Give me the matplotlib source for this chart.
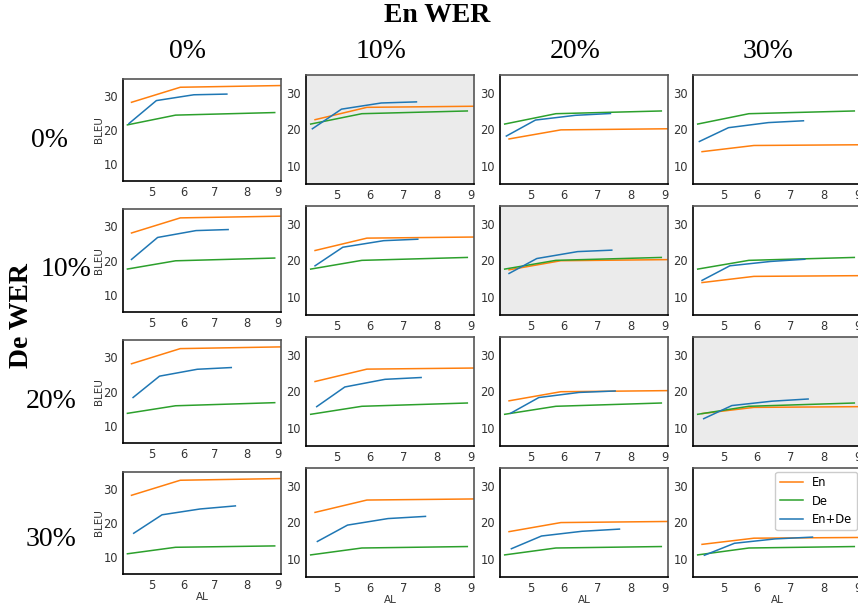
import matplotlib
matplotlib.use("Agg")
import matplotlib.pyplot as plt

# ---------------- data ----------------
wer_levels = ["0%", "10%", "20%", "30%"]

# En (orange) depends on En WER (column)
al_en = [4.35, 5.9, 9.1]
bleu_en = [
    [28.1, 32.5, 33.0],
    [22.7, 26.1, 26.4],
    [17.4, 19.9, 20.2],
    [13.9, 15.6, 15.8],
]

# De (green) depends on De WER (row)
al_de = [4.22, 5.75, 8.9]
bleu_de = [
    [21.5, 24.35, 25.1],
    [17.6, 20.0, 20.8],
    [13.7, 15.9, 16.8],
    [11.0, 12.9, 13.3],
]

# En+De (blue) depends on both; AL depends on De WER (row)
al_both = [
    [4.27, 5.14, 6.33, 7.38],
    [4.35, 5.18, 6.40, 7.42],
    [4.40, 5.24, 6.44, 7.52],
    [4.42, 5.32, 6.53, 7.65],
]
bleu_both = [
    [[21.9, 28.6, 30.3, 30.5], [20.2, 25.6, 27.3, 27.6], [18.2, 22.6, 23.9, 24.4], [16.7, 20.5, 21.9, 22.4]],
    [[20.4, 26.8, 28.8, 29.1], [18.5, 23.6, 25.4, 25.8], [16.4, 20.5, 22.4, 22.8], [14.5, 18.5, 19.7, 20.3]],
    [[18.3, 24.5, 26.5, 27.0], [15.8, 21.2, 23.3, 23.8], [14.0, 18.3, 19.7, 20.1], [12.5, 16.1, 17.3, 17.9]],
    [[17.0, 22.4, 24.1, 25.0], [14.7, 19.2, 21.0, 21.6], [12.7, 16.2, 17.5, 18.1], [10.9, 14.2, 15.4, 15.9]],
]

shaded = [(0, 1), (1, 2), (2, 3)]

C_EN = "#ff7f0e"
C_DE = "#2ca02c"
C_BOTH = "#1f77b4"

# ---------------- layout ----------------
W, H = 858, 603
fig = plt.figure(figsize=(W / 100, H / 100), dpi=100)

col_left = [123, 306, 500, 693]
col_width = [158, 168, 168, 168]
top0 = [78.7, 209.3, 340, 471.7]
bot0 = [181.3, 312.3, 443.3, 574.3]
topn = [75, 205.7, 336.7, 467.7]
botn = [184, 315, 446, 576.7]

def rect(l, t, w, b):
    return [l / W, 1 - b / H, w / W, (b - t) / H]

for r in range(4):
    for c in range(4):
        if c == 0:
            t, b = top0[r], bot0[r]
        else:
            t, b = topn[r], botn[r]
        ax = fig.add_axes(rect(col_left[c], t, col_width[c], b))
        fc = "#ebebeb" if (r, c) in shaded else "white"
        ax.set_facecolor(fc)
        l1, = ax.plot(al_en, bleu_en[c], color=C_EN, lw=1.1, label="En")
        l2, = ax.plot(al_de, bleu_de[r], color=C_DE, lw=1.1, label="De")
        l3, = ax.plot(al_both[r], bleu_both[r][c], color=C_BOTH, lw=1.1, label="En+De")
        ax.set_xlim(4.08, 9.1)
        ax.set_ylim(5, 35)
        ax.set_xticks([5, 6, 7, 8, 9])
        ax.set_yticks([10, 20, 30])
        ax.tick_params(length=0, labelsize=8.3, labelcolor="#333333", pad=3.5)
        for s in ["left", "bottom"]:
            ax.spines[s].set_color("black")
            ax.spines[s].set_linewidth(1.2)
        for s in ["top", "right"]:
            ax.spines[s].set_color("#555555")
            ax.spines[s].set_linewidth(1.2)
        if c == 0:
            ax.set_ylabel("BLEU", fontsize=7.5, color="#333333", labelpad=0)
        if r == 3:
            ax.set_xlabel("AL", fontsize=7.5, color="#333333", labelpad=0)
        if r == 3 and c == 3:
            ax.legend(handles=[l1, l2, l3], loc="upper right", fontsize=8.3,
                      frameon=True, fancybox=True, framealpha=1,
                      edgecolor="#cccccc", handlelength=2.0, borderaxespad=0.35,
                      labelspacing=0.45)

serif = ["Liberation Serif", "DejaVu Serif"]
fig.text(437 / W, 1 - 15 / H, "En WER", ha="center", va="center",
         fontsize=20, fontweight="bold", family=serif)
col_cx = [187, 381, 575, 768]
for c in range(4):
    fig.text(col_cx[c] / W, 1 - 52 / H, wer_levels[c], ha="center", va="center",
             fontsize=20, family=serif)
row_cx = [50, 66, 51, 51]
row_cy = [140, 270, 402, 540]
for r in range(4):
    fig.text(row_cx[r] / W, 1 - row_cy[r] / H, wer_levels[r], ha="center", va="center",
             fontsize=20, family=serif)
fig.text(22 / W, 1 - 316 / H, "De WER", ha="center", va="center", rotation=90,
         fontsize=20, fontweight="bold", family=serif)

fig.savefig("out.png", dpi=100)
